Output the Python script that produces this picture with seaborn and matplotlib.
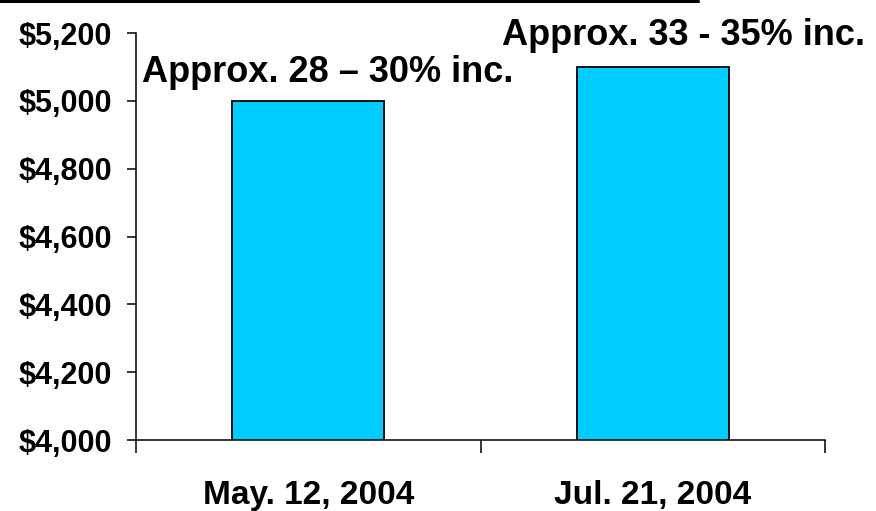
import matplotlib
matplotlib.use("Agg")
import matplotlib.pyplot as plt
import matplotlib.ticker as mticker
from matplotlib.lines import Line2D
import seaborn as sns
import pandas as pd

# data
dates = ["May. 12, 2004", "Jul. 21, 2004"]
amounts = [5000, 5100]
notes = ["Approx. 28 \u2013 30% inc.", "Approx. 33 - 35% inc."]

sns.set_style("ticks")
plt.rcParams['font.family'] = ['Liberation Sans', 'DejaVu Sans']
plt.rcParams['font.weight'] = 'bold'
plt.rcParams['text.color'] = 'black'
plt.rcParams['xtick.color'] = 'black'
plt.rcParams['ytick.color'] = 'black'

df = pd.DataFrame({"date": dates, "amount": amounts})

fig = plt.figure(figsize=(8.76, 5.11), dpi=100)
ax = fig.add_axes([0.1553, 0.1389, 0.7865, 0.7965])

sns.barplot(data=df, x="date", y="amount", color="#00CCFF", saturation=1,
            edgecolor="black", linewidth=1.3, width=0.44, ax=ax)

ax.set_ylim(4000, 5200)
ax.set_xlim(-0.5, 1.5)
ax.yaxis.set_major_locator(mticker.MultipleLocator(200))
ax.yaxis.set_major_formatter(mticker.FuncFormatter(lambda v, p: f"${v:,.0f}"))

# category boundaries get the ticks, labels sit under the bars
ax.set_xticks([-0.5, 0.5, 1.5])
ax.set_xticklabels([])
ax.set_xticks(range(len(dates)), minor=True)
ax.set_xticklabels(dates, minor=True, fontsize=24, fontweight='bold')
ax.tick_params(axis='x', which='major', bottom=True, direction='out', length=9.5, width=1.1, color='black')
ax.tick_params(axis='x', which='minor', bottom=True, length=0, pad=29, labelcolor='black')
ax.tick_params(axis='y', left=True, direction='out', length=6.5, width=1.1, color='black',
               pad=11, labelsize=22, labelcolor='black')
for t in ax.get_yticklabels():
    t.set_fontweight('bold')

ax.set_xlabel("")
ax.set_ylabel("")
sns.despine(ax=ax)
for s in ["left", "bottom"]:
    ax.spines[s].set_color("black")
    ax.spines[s].set_linewidth(1.1)

# note positions (x in category units, y at baseline)
note_x = [-0.483, 0.561]
note_y = [5055, 5165]
for i in range(len(notes)):
    ax.text(note_x[i], note_y[i], notes[i], ha='left', va='baseline',
            fontsize=26, fontweight='bold', color='black')

# rule across the top of the slide
fig.add_artist(Line2D([0, 698 / 876], [1 - 1.5 / 511] * 2, color='black', lw=2.2))

fig.savefig("out.png", dpi=100)
